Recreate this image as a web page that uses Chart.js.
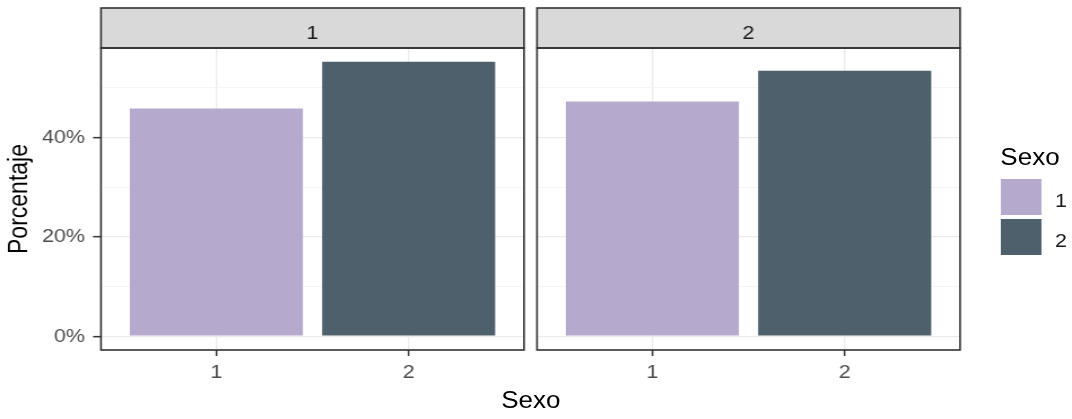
<!DOCTYPE html>
<html>
<head>
<meta charset="utf-8">
<script src="https://cdn.jsdelivr.net/npm/chart.js@4.4.1/dist/chart.umd.min.js"></script>
<style>
  html, body { margin: 0; padding: 0; background: #fff; }
  body { width: 1072px; height: 419px; overflow: hidden; position: relative; }
  /* the reference is stretched horizontally, so the whole figure is too */
  #wrap {
    position: absolute; left: 0; top: 0; width: 949px; height: 419px;
    transform: scaleX(1.1296); transform-origin: 0 0;
    font-family: "Liberation Sans", Arial, sans-serif;
  }
  canvas { position: absolute; top: 0; }
  .txt { position: absolute; white-space: nowrap; }
</style>
</head>
<body>
<div id="wrap">
  <canvas id="panel1" width="470" height="419" style="left:0px"></canvas>
  <canvas id="panel2" width="479" height="419" style="left:470px"></canvas>
  <div id="xtitle" class="txt"></div>
  <div id="legend"></div>
</div>
<script>
const sexo = ["1", "2"];
const facetLabels = ["1", "2"];
const pctFacet1 = [45.8, 55.2];
const pctFacet2 = [47.2, 53.4];
const sexoColors = ["#B5AACE", "#4E606B"];
const yMajor = [0, 20, 40];
const yMinor = [10, 30, 50];
const xTitle = "Sexo";
const yTitle = "Porcentaje";
const legendTitle = "Sexo";

const FONT = "'Liberation Sans', Arial, sans-serif";

// ggplot-like expansion of 5% on the value axis
const dataMax = Math.max(...pctFacet1, ...pctFacet2);
const yMax = dataMax * 1.05;
const yMin = -dataMax * 0.05;

// strip on top of each facet plus the dark panel frame
const panelFrame = {
  id: "panelFrame",
  afterDraw(chart, args, opts) {
    const { ctx, chartArea: a } = chart;
    const w = a.right - a.left;
    ctx.save();
    ctx.fillStyle = "#D9D9D9";
    ctx.fillRect(a.left, 8, w, a.top - 8);
    ctx.strokeStyle = "#333333";
    ctx.lineWidth = 1.6;
    ctx.strokeRect(a.left, 8, w, a.top - 8);
    ctx.strokeRect(a.left, a.top, w, a.bottom - a.top);
    ctx.fillStyle = "#1A1A1A";
    ctx.font = "19px " + FONT;
    ctx.textAlign = "center";
    ctx.textBaseline = "alphabetic";
    ctx.fillText(opts.label, (a.left + a.right) / 2, 38.5);
    ctx.restore();
  },
};

function makePanel(canvasId, values, facetLabel, showY, padding) {
  const isMajor = (v) => yMajor.includes(v);
  return new Chart(document.getElementById(canvasId), {
    type: "bar",
    data: {
      datasets: [
        {
          data: values.map((v, i) => ({ x: i + 1, y: v })),
          backgroundColor: sexoColors,
          borderWidth: 0,
          categoryPercentage: 0.9,
          barPercentage: 1,
        },
      ],
    },
    plugins: [panelFrame],
    options: {
      responsive: false,
      animation: false,
      devicePixelRatio: 1,
      layout: { padding: padding },
      scales: {
        x: {
          type: "linear",
          offset: false,
          min: 0.4,
          max: 2.6,
          afterBuildTicks: (s) => {
            s.ticks = sexo.map((_, i) => ({ value: i + 1 }));
          },
          afterFit: (s) => {
            s.height = 69;
          },
          border: { display: false },
          grid: {
            offset: false,
            color: "#EBEBEB",
            lineWidth: 1.3,
            tickLength: 6,
            tickColor: "#333333",
            tickWidth: 1.5,
          },
          ticks: {
            autoSkip: false,
            maxRotation: 0,
            padding: 5.5,
            color: "#4D4D4D",
            font: { family: FONT, size: 19 },
            callback: (v) => sexo[v - 1] ?? "",
          },
        },
        y: {
          min: yMin,
          max: yMax,
          afterBuildTicks: (s) => {
            s.ticks = [...yMajor, ...yMinor].sort((a, b) => a - b).map((v) => ({ value: v }));
          },
          afterFit: (s) => {
            s.width = showY ? 89.4 : 0;
          },
          border: { display: false },
          grid: {
            color: (c) => (isMajor(c.tick.value) ? "#EBEBEB" : "#F3F3F3"),
            lineWidth: (c) => (isMajor(c.tick.value) ? 1.3 : 0.8),
            drawTicks: showY,
            tickLength: 7,
            tickColor: (c) => (isMajor(c.tick.value) ? "#333333" : "rgba(0,0,0,0)"),
            tickWidth: 1.5,
          },
          ticks: {
            display: showY,
            autoSkip: false,
            padding: 7.2,
            color: "#4D4D4D",
            font: { family: FONT, size: 19 },
            callback: (v) => (isMajor(v) ? v + "%" : ""),
          },
          title: {
            display: showY,
            text: yTitle,
            color: "#000000",
            font: { family: FONT, size: 23 },
            padding: { top: 4, bottom: 0 },
          },
        },
      },
      plugins: {
        legend: { display: false },
        tooltip: { enabled: false },
        panelFrame: { label: facetLabel },
      },
    },
  });
}

makePanel("panel1", pctFacet1, facetLabels[0], true, { left: 0, top: 48, right: 6.1, bottom: 0 });
makePanel("panel2", pctFacet2, facetLabels[1], false, { left: 5.4, top: 48, right: 99.1, bottom: 0 });

// x axis title, centred under both panels
const xt = document.getElementById("xtitle");
xt.textContent = xTitle;
Object.assign(xt.style, {
  left: "370px", width: "200px", textAlign: "center",
  top: "389px", fontSize: "23px", lineHeight: "23px", color: "#000",
});

// legend
const legend = document.getElementById("legend");
const lt = document.createElement("div");
lt.className = "txt";
lt.textContent = legendTitle;
Object.assign(lt.style, { left: "885.6px", top: "145.5px", fontSize: "23px", lineHeight: "23px", color: "#000" });
legend.appendChild(lt);
sexo.forEach((s, i) => {
  const key = document.createElement("div");
  Object.assign(key.style, {
    position: "absolute", left: "885.6px", top: 179 + i * 40 + "px",
    width: "36px", height: "36px", background: sexoColors[i],
  });
  legend.appendChild(key);
  const lab = document.createElement("div");
  lab.className = "txt";
  lab.textContent = s;
  Object.assign(lab.style, {
    left: "934px", top: 191 + i * 40 + "px", fontSize: "19px", lineHeight: "19px", color: "#1A1A1A",
  });
  legend.appendChild(lab);
});
</script>
</body>
</html>
